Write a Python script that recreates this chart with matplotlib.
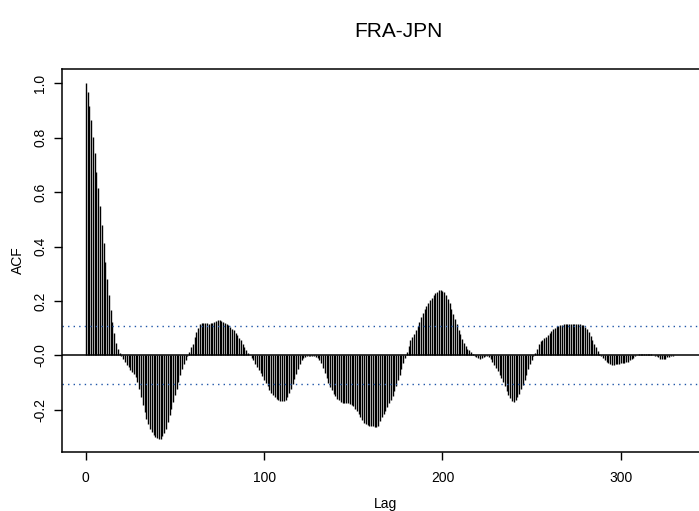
import numpy as np
import matplotlib
matplotlib.use("Agg")
import matplotlib.pyplot as plt

plt.rcParams['font.family'] = ['Liberation Sans', 'DejaVu Sans']

title = "FRA-JPN"
x_label = "Lag"
y_label = "ACF"
conf_limit = 0.1066

acf_0_19 = [1.0, 0.967, 0.918, 0.865, 0.804, 0.745, 0.675, 0.614, 0.549, 0.479,
            0.412, 0.344, 0.279, 0.222, 0.167, 0.124, 0.081, 0.044, 0.025, 0.009]
acf_20_39 = [-0.004, -0.012, -0.025, -0.037, -0.043, -0.053, -0.061, -0.067, -0.080, -0.098,
             -0.123, -0.153, -0.184, -0.208, -0.233, -0.251, -0.270, -0.282, -0.294, -0.300]
acf_40_59 = [-0.304, -0.306, -0.306, -0.298, -0.285, -0.270, -0.245, -0.221, -0.196, -0.172,
             -0.147, -0.123, -0.098, -0.074, -0.049, -0.031, -0.016, -0.004, 0.012, 0.031]
acf_60_79 = [0.043, 0.067, 0.086, 0.102, 0.116, 0.120, 0.120, 0.119, 0.119, 0.116,
             0.117, 0.120, 0.124, 0.126, 0.129, 0.129, 0.126, 0.122, 0.119, 0.114]
acf_80_99 = [0.110, 0.104, 0.098, 0.092, 0.082, 0.074, 0.065, 0.055, 0.043, 0.031,
             0.018, 0.009, 0.000, -0.009, -0.018, -0.031, -0.043, -0.053, -0.065, -0.077]
acf_100_119 = [-0.089, -0.102, -0.114, -0.126, -0.138, -0.147, -0.153, -0.159, -0.163, -0.167,
               -0.168, -0.168, -0.163, -0.153, -0.138, -0.123, -0.104, -0.086, -0.067, -0.049]
acf_120_139 = [-0.031, -0.018, -0.010, -0.005, -0.002, -0.001, -0.001, -0.002, -0.004, -0.005,
               -0.009, -0.016, -0.028, -0.045, -0.065, -0.083, -0.102, -0.116, -0.129, -0.141]
acf_140_159 = [-0.151, -0.159, -0.165, -0.172, -0.174, -0.175, -0.176, -0.177, -0.179, -0.181,
               -0.187, -0.196, -0.204, -0.214, -0.227, -0.239, -0.249, -0.253, -0.257, -0.259]
acf_160_164 = [-0.261, -0.261, -0.262, -0.263, -0.261]
acf_165_184 = [-0.240, -0.226, -0.215, -0.204, -0.190, -0.177, -0.164, -0.148, -0.131, -0.113,
               -0.092, -0.071, -0.050, -0.030, -0.010, 0.013, 0.035, 0.055, 0.067, 0.080]
acf_185_204 = [0.092, 0.108, 0.124, 0.140, 0.157, 0.171, 0.183, 0.193, 0.203, 0.212,
               0.221, 0.228, 0.234, 0.239, 0.241, 0.238, 0.231, 0.220, 0.208, 0.192]
acf_205_224 = [0.172, 0.152, 0.133, 0.114, 0.094, 0.077, 0.060, 0.045, 0.034, 0.025,
               0.018, 0.011, 0.005, -0.002, -0.008, -0.011, -0.012, -0.010, -0.007, -0.004]
acf_225_244 = [-0.003, -0.005, -0.014, -0.025, -0.035, -0.047, -0.058, -0.071, -0.084, -0.099,
               -0.114, -0.131, -0.147, -0.158, -0.167, -0.172, -0.166, -0.154, -0.141, -0.125]
acf_245_264 = [-0.108, -0.091, -0.072, -0.052, -0.033, -0.017, -0.004, 0.009, 0.025, 0.041,
               0.052, 0.058, 0.063, 0.069, 0.075, 0.082, 0.088, 0.095, 0.102, 0.106]
acf_265_284 = [0.109, 0.111, 0.113, 0.114, 0.114, 0.115, 0.115, 0.116, 0.116, 0.116,
               0.116, 0.116, 0.115, 0.113, 0.110, 0.104, 0.097, 0.087, 0.072, 0.056]
acf_285_304 = [0.042, 0.029, 0.017, 0.006, -0.003, -0.010, -0.018, -0.024, -0.030, -0.033,
               -0.034, -0.034, -0.033, -0.032, -0.031, -0.030, -0.028, -0.027, -0.026, -0.023]
acf_305_324 = [-0.019, -0.014, -0.009, -0.004, 0.000, 0.004, 0.005, 0.006, 0.006, 0.006,
               0.005, 0.004, 0.003, 0.001, -0.001, -0.004, -0.008, -0.012, -0.015, -0.014]
acf_325_330 = [-0.012, -0.008, -0.006, -0.003, -0.001, 0.000]

acf = np.array(acf_0_19 + acf_20_39 + acf_40_59 + acf_60_79 + acf_80_99 + acf_100_119
               + acf_120_139 + acf_140_159 + acf_160_164 + acf_165_184 + acf_185_204
               + acf_205_224 + acf_225_244 + acf_245_264 + acf_265_284 + acf_285_304
               + acf_305_324 + acf_325_330)
lags = np.arange(len(acf))

x_ticks = [0, 100, 200, 300]
x_tick_labels = ["0", "100", "200", "300"]
y_ticks = [-0.2, 0.0, 0.2, 0.4, 0.6, 0.8, 1.0]
y_tick_labels = ["-0.2", "-0.0", "0.2", "0.4", "0.6", "0.8", "1.0"]

W, H = 699, 511
fig = plt.figure(figsize=(W / 100, H / 100), dpi=100)
L, R, T, B = 62, 709, 69, 452
ax = fig.add_axes([L / W, (H - B) / H, (R - L) / W, (B - T) / H])

ax.vlines(lags, 0, acf, colors='black', linewidth=1.0)
ax.axhline(0, color='black', linewidth=1.1)
for c in (conf_limit, -conf_limit):
    ax.axhline(c, color='#1f55a8', linewidth=1.0, linestyle=(0, (1, 3)))

ax.set_xlim(-13.3, 349.4)
ax.set_ylim(-0.3555, 1.0526)

ax.set_xticks(x_ticks)
ax.set_xticklabels(x_tick_labels)
ax.set_yticks(y_ticks)
ax.set_yticklabels(y_tick_labels, rotation=90, va='center')
ax.tick_params(axis='both', direction='out', length=5.5, width=1.0, labelsize=10, colors='black')
ax.tick_params(axis='x', pad=8.5)
ax.tick_params(axis='y', pad=5.3)
for s in ax.spines.values():
    s.set_linewidth(1.1)
    s.set_color('black')

fig.text(398 / W, (H - 31) / H, title, ha='center', va='center', fontsize=15)
fig.text(385.5 / W, (H - 508) / H, x_label, ha='center', va='baseline', fontsize=10)
fig.text(18 / W, (H - 260.5) / H, y_label, ha='center', va='center', rotation=90, fontsize=10)

fig.savefig("out.png", dpi=100)
